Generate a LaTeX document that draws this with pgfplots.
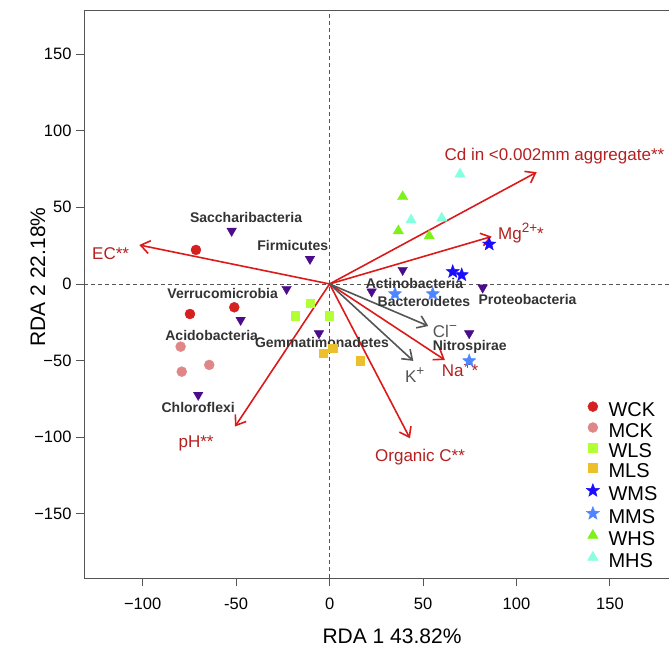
\documentclass[border=0pt]{standalone}
\usepackage{fontspec}
\setmainfont{Liberation Sans}
\usepackage{pgfplots}
\pgfplotsset{compat=1.18}
\usetikzlibrary{arrows.meta}
\definecolor{wck}{HTML}{D61F1F}
\definecolor{mck}{HTML}{E08686}
\definecolor{wls}{HTML}{B2FF33}
\definecolor{mls}{HTML}{EBC02A}
\definecolor{wms}{HTML}{1A0DFF}
\definecolor{mms}{HTML}{4D86FF}
\definecolor{whs}{HTML}{7DF21A}
\definecolor{mhs}{HTML}{85FFE0}
\definecolor{sp}{HTML}{4A0C8A}
\definecolor{sptext}{HTML}{333333}
\definecolor{arrred}{HTML}{DD1A1A}
\definecolor{labred}{HTML}{B51F1F}
\definecolor{arrgray}{HTML}{555555}
\definecolor{axisgray}{HTML}{555555}
\newcommand{\sups}[1]{\raisebox{7pt}{\fontsize{13.5}{13.5}\selectfont #1}}
\pgfdeclareplotmark{fstar}{%
  \pgfpathmoveto{\pgfpointpolar{90}{\pgfplotmarksize}}%
  \pgfpathlineto{\pgfpointpolar{126}{0.42\pgfplotmarksize}}%
  \pgfpathlineto{\pgfpointpolar{162}{\pgfplotmarksize}}%
  \pgfpathlineto{\pgfpointpolar{198}{0.42\pgfplotmarksize}}%
  \pgfpathlineto{\pgfpointpolar{234}{\pgfplotmarksize}}%
  \pgfpathlineto{\pgfpointpolar{270}{0.42\pgfplotmarksize}}%
  \pgfpathlineto{\pgfpointpolar{306}{\pgfplotmarksize}}%
  \pgfpathlineto{\pgfpointpolar{342}{0.42\pgfplotmarksize}}%
  \pgfpathlineto{\pgfpointpolar{18}{\pgfplotmarksize}}%
  \pgfpathlineto{\pgfpointpolar{54}{0.42\pgfplotmarksize}}%
  \pgfpathclose\pgfusepathqfillstroke}
\tikzset{
  redarr/.style={draw=arrred, line width=1.6pt, -{Straight Barb[length=9pt,width=13pt,line width=1.6pt]}},
  grayarr/.style={draw=arrgray, line width=1.6pt, -{Straight Barb[length=9pt,width=13pt,line width=1.6pt]}},
  redlab/.style={text=labred, font=\fontsize{17}{17}\selectfont, inner sep=0pt},
  graylab/.style={text=arrgray, font=\fontsize{17}{17}\selectfont, inner sep=0pt},
  splab/.style={text=sptext, font=\fontsize{14}{14}\selectfont\bfseries, inner sep=0pt},
}
\begin{document}
\begin{tikzpicture}
\useasboundingbox (-84pt,-71pt) rectangle (585pt,578pt);
\begin{axis}[
  scale only axis, width=585pt, height=568pt,
  xmin=-131.4, xmax=181.6, ymin=-191.8, ymax=178.7,
  axis lines=left, axis line style={-, draw=axisgray, line width=0.9pt},
  tick align=outside, major tick length=8pt,
  tick style={draw=axisgray, line width=0.9pt},
  xtick={-100,-50,0,50,100,150}, xticklabels={−100,-50,0,50,100,150},
  ytick={-150,-100,-50,0,50,100,150}, yticklabels={−150,−100,−50,0,50,100,150},
  ticklabel style={font=\fontsize{16.5}{16.5}\selectfont},
  xticklabel style={yshift=-8pt},
  yticklabel style={xshift=-1pt},
  xlabel={RDA 1 43.82\%}, ylabel={RDA 2 22.18\%},
  label style={font=\fontsize{21}{21}\selectfont},
  xlabel style={at={(axis description cs:0.5265,-0.1021)}, anchor=center},
  ylabel style={at={(axis description cs:-0.0786,0.53)}, anchor=center},
  clip=false,
  legend cell align=left,
  legend image code/.code={\draw[#1] plot coordinates {(0pt,6pt)};},
  legend style={at={(axis cs:135.6,-75.3)}, anchor=north west, draw=none, fill=none,
    font=\fontsize{20}{20}\selectfont, row sep=0pt,
    nodes={inner sep=0pt, text height=14pt, text depth=5.8pt},
    /tikz/every odd column/.append style={column sep=9pt}},
]
% dashed zero lines
\draw[axisgray, line width=0.7pt, dash pattern=on 4pt off 3pt] (axis cs:-131.4,0) -- (axis cs:181.6,0);
\draw[axisgray, line width=0.7pt, dash pattern=on 4pt off 3pt] (axis cs:0,-191.8) -- (axis cs:0,178.7);
\draw[axisgray, line width=0.9pt] (rel axis cs:0,1) -- (rel axis cs:1,1);

% sample groups
\addplot[only marks, mark=*, mark size=5pt, draw=wck, fill=wck] coordinates {(-71.5,22.2) (-74.7,-19.6) (-51.0,-15.2)};
\addlegendentry{WCK}
\addplot[only marks, mark=*, mark size=5pt, draw=mck, fill=mck] coordinates {(-79.7,-40.9) (-79.1,-57.2) (-64.4,-52.8)};
\addlegendentry{MCK}
\addplot[only marks, mark=square*, mark size=4.2pt, draw=wls, fill=wls] coordinates {(-10.5,-12.6) (-18.5,-20.7) (-0.3,-20.7)};
\addlegendentry{WLS}
\addplot[only marks, mark=square*, mark size=4.2pt, draw=mls, fill=mls] coordinates {(-3.4,-45.2) (1.7,-41.9) (16.3,-50.0)};
\addlegendentry{MLS}
\addplot[only marks, mark=fstar, mark size=7pt, draw=wms, fill=wms] coordinates {(85.4,25.9) (65.9,8.0) (70.7,5.9)};
\addlegendentry{WMS}
\addplot[only marks, mark=fstar, mark size=7pt, draw=mms, fill=mms] coordinates {(35.0,-6.5) (55.2,-6.5) (74.7,-50.2)};
\addlegendentry{MMS}
\addplot[only marks, mark=triangle*, mark size=6pt, draw=whs, fill=whs] coordinates {(39.1,56.9) (36.8,34.6) (53.3,31.3)};
\addlegendentry{WHS}
\addplot[only marks, mark=triangle*, mark size=6pt, draw=mhs, fill=mhs] coordinates {(69.8,71.6) (43.6,41.7) (60.0,42.9)};
\addlegendentry{MHS}

% species
\addplot[only marks, forget plot, mark=triangle*, mark size=5.5pt, mark options={rotate=180}, draw=sp, fill=sp] coordinates {
(-52.4,34.6) (-10.5,16.3) (-23.0,-3.3) (-47.6,-23.5) (-70.3,-72.4)
(-5.7,-32.2) (39.1,9.1) (22.5,-5.0) (81.9,-2.4) (74.7,-32.2)};

% environmental arrows
\addplot[redarr, forget plot] coordinates {(0,0) (110.8,72.9)};
\addplot[redarr, forget plot] coordinates {(0,0) (86.7,30.9)};
\addplot[redarr, forget plot] coordinates {(0,0) (-101.8,25.4)};
\addplot[redarr, forget plot] coordinates {(0,0) (-50.6,-93.0)};
\addplot[redarr, forget plot] coordinates {(0,0) (43.0,-100.7)};
\addplot[redarr, forget plot] coordinates {(0,0) (61.7,-49.6)};
\addplot[grayarr, forget plot] coordinates {(0,0) (52.8,-27.4)};
\addplot[grayarr, forget plot] coordinates {(0,0) (44.8,-50.2)};

% arrow labels
\node[redlab] at (axis cs:120.3,83.5) {Cd in <0.002mm aggregate**};
\node[redlab, anchor=base west] at (axis cs:90.1,29.0) {Mg\sups{2+}*};
\node[redlab, anchor=east] at (axis cs:-107.2,20.0) {EC**};
\node[redlab] at (axis cs:-71.4,-103.7) {pH**};
\node[redlab] at (axis cs:48.4,-112.9) {Organic C**};
\node[redlab, anchor=base west] at (axis cs:60.0,-60.2) {Na\sups{+}*};
\node[graylab, anchor=base west] at (axis cs:55.2,-34.8) {Cl\sups{−}};
\node[graylab, anchor=base west] at (axis cs:40.3,-64.6) {K\sups{+}};

% species labels
\node[splab] at (axis cs:-44.7,43.5) {Saccharibacteria};
\node[splab] at (axis cs:-19.7,25.4) {Firmicutes};
\node[splab] at (axis cs:-57.2,-6.1) {Verrucomicrobia};
\node[splab] at (axis cs:-63.1,-33.3) {Acidobacteria};
\node[splab] at (axis cs:-70.3,-80.7) {Chloroflexi};
\node[splab] at (axis cs:-4.1,-38.5) {Gemmatimonadetes};
\node[splab] at (axis cs:45.4,0.6) {Actinobacteria};
\node[splab] at (axis cs:50.5,-11.7) {Bacteroidetes};
\node[splab] at (axis cs:105.9,-10.4) {Proteobacteria};
\node[splab] at (axis cs:75.0,-40.9) {Nitrospirae};
\end{axis}
\end{tikzpicture}
\end{document}
